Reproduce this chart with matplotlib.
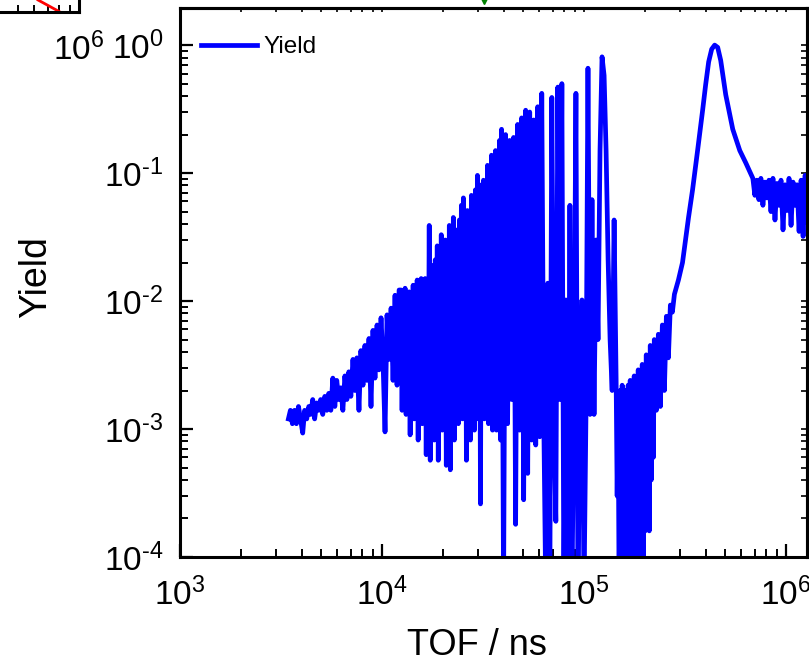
import numpy as np
import matplotlib
matplotlib.use("Agg")
import matplotlib.pyplot as plt
from matplotlib.ticker import LogLocator, NullFormatter, FuncFormatter, FixedLocator

plt.rcParams['font.family'] = ['Liberation Sans', 'DejaVu Sans']
plt.rcParams['mathtext.fontset'] = 'custom'
plt.rcParams['mathtext.rm'] = 'Liberation Sans'
plt.rcParams['mathtext.it'] = 'Liberation Sans:italic'
plt.rcParams['mathtext.bf'] = 'Liberation Sans:bold'
plt.rcParams['axes.unicode_minus'] = False

# ---------------- data ----------------
tof_low = [3440, 3520, 3600, 3690, 3770, 3860, 3950, 4050, 4140, 4240, 4340, 4430,
           4540, 4640, 4750, 4860, 4970, 5090, 5210, 5330, 5450, 5580, 5710, 5840,
           5970, 6110, 6250, 6400, 6550, 6700, 6850, 7010, 7180, 7340, 7510, 7690,
           7860, 8050, 8230, 8420, 8620, 8820, 9020, 9230, 9450, 9660, 9890, 10120,
           10350, 10590, 10840, 11090, 11340, 11600, 11870, 12150]
yield_low = [0.0012, 0.0014, 0.0011, 0.0014, 0.0011, 0.0015, 0.0012, 0.00093, 0.0014, 0.0012, 0.0015, 0.0013,
             0.0017, 0.0012, 0.0016, 0.0014, 0.0017, 0.0013, 0.0018, 0.0014, 0.0019, 0.0014, 0.0025, 0.0015,
             0.0024, 0.0017, 0.0021, 0.0014, 0.0026, 0.0017, 0.0028, 0.0018, 0.0035, 0.0020, 0.0036, 0.0014,
             0.0041, 0.0022, 0.0045, 0.0024, 0.0051, 0.0015, 0.0059, 0.0025, 0.0065, 0.0029, 0.0074, 0.0033,
             0.00095, 0.0078, 0.0035, 0.0088, 0.0024, 0.0111, 0.0022, 0.0122]

tof_dense = [12430, 12570, 12720, 12860, 13010, 13160, 13310, 13460, 13620, 13780,
             13940, 14100, 14260, 14420, 14590, 14760, 14930, 15100, 15280, 15450,
             15630, 15810, 15990, 16170, 16360, 16550, 16740, 16930, 17130, 17330,
             17530, 17730, 17930, 18140, 18350, 18560, 18770, 18990, 19210, 19430,
             19650, 19880, 20110, 20340, 20570, 20810, 21050, 21290, 21540, 21790,
             22040, 22290, 22550, 22810, 23070, 23340, 23610, 23880, 24150, 24430,
             24710, 25000, 25290, 25580, 25870, 26170, 26470, 26780, 27090, 27400,
             27710, 28030, 28350, 28680, 29010, 29350, 29680, 30030, 30370, 30720,
             31070, 31430, 31790, 32160, 32530, 32900, 33280, 33660, 34050, 34440,
             34840, 35250, 35650, 36060, 36470, 36900, 37320, 37750, 38180, 38630,
             39070]
yield_dense = [0.0122, 0.0014, 0.0102, 0.0017, 0.0126, 0.0013, 0.0085, 0.0015, 0.0118, 0.00090,
               0.0102, 0.0014, 0.0133, 0.0012, 0.0071, 0.0015, 0.0146, 0.00082, 0.0111, 0.0013,
               0.015, 0.0011, 0.0122, 0.0014, 0.015, 0.00063, 0.0102, 0.0012, 0.039, 0.00057,
               0.0059, 0.0013, 0.019, 0.00082, 0.021, 0.0012, 0.027, 0.00057, 0.0175, 0.0011,
               0.033, 0.00098, 0.023, 0.0014, 0.030, 0.00052, 0.021, 0.0012, 0.039, 0.00048,
               0.030, 0.0011, 0.045, 0.00082, 0.025, 0.0013, 0.036, 0.0011, 0.043, 0.0015,
               0.056, 0.0012, 0.064, 0.0017, 0.047, 0.00057, 0.051, 0.0014, 0.039, 0.00082,
               0.067, 0.0013, 0.056, 0.00098, 0.074, 0.0015, 0.096, 0.0012, 0.081, 0.00026,
               0.062, 0.0014, 0.088, 0.0012, 0.074, 0.0017, 0.115, 0.0011, 0.096, 0.0014,
               0.138, 0.00098, 0.105, 0.0013, 0.15, 0.00098, 0.115, 0.0014, 0.18, 0.00082,
               0.22]

tof_res = [39970, 40900, 41850, 42820, 43810, 44820, 45860, 46920, 48010,
           49120, 50260, 51420, 52620, 53840, 55080, 56360, 57670, 59000, 60370, 61770, 63200,
           64670, 66170, 67700, 69270, 70870, 72520, 74200, 75920, 77680, 79480, 81320, 83210,
           85140, 87110, 89130, 91190, 93310, 95470, 97690, 99950, 102300, 104600, 107100, 109500,
           112100, 114700, 117300, 120000, 122800]
yield_res = [5e-5, 0.20, 0.0011, 0.18, 0.0017, 0.19, 0.00018, 0.24, 0.00098,
             0.27, 0.00028, 0.31, 0.00045, 0.30, 0.00082, 0.26, 0.00075, 0.33, 0.00087, 0.42, 0.0012,
             5e-5, 0.0138, 5e-5, 0.39, 0.0013, 0.00019, 0.47, 0.0017, 0.50, 5e-5, 0.0102, 5e-5,
             0.056, 5e-5, 0.0017, 0.42, 5e-5, 0.0014, 0.0102, 5e-5, 0.0014, 0.66, 0.0013, 0.062,
             0.0013, 0.030, 0.0050, 0.15, 0.81]

tof_dip = [125700, 128600, 131600, 134600, 137800, 140900,
           144200, 145900, 147500, 149200, 151000, 152700, 154500, 156300, 158000, 159900,
           161700, 163600, 165400, 167300, 169300, 171200, 173200, 175200, 177200, 179300,
           181300, 183400, 185500, 187700, 189800, 192000, 194200, 196500, 198700, 201000,
           203300, 205700, 208000, 210400, 212800, 215300, 217800, 220300, 222800,
           228000, 233300, 238700, 244200, 249900, 255700, 261600, 267600, 273800, 280200]
yield_dip = [0.58, 0.15, 0.021, 0.0050, 0.0020, 0.043,
             0.0024, 0.00030, 0.0015, 5e-5, 0.0020, 0.00015, 0.0022, 5e-5, 0.0019, 0.00019,
             0.0020, 5e-5, 0.0022, 0.00012, 0.0024, 5e-5, 0.0021, 0.00025, 0.0026, 5e-5,
             0.0024, 0.00014, 0.0029, 5e-5, 0.0027, 0.00028, 0.0032, 5e-5, 0.0030, 0.00016,
             0.0038, 0.00020, 0.0035, 0.00016, 0.0045, 0.00040, 0.0042, 0.00060, 0.0050,
             0.0014, 0.0055, 0.0015, 0.0065, 0.0020, 0.0076, 0.0036, 0.0093, 0.0082, 0.0113]

tof_peak = [293300, 307300, 318000, 329100, 344600, 364900, 386500, 400000, 414000,
            428500, 443400, 458900, 474900, 502900, 544900, 590300, 632400]
yield_peak = [0.0146, 0.020, 0.030, 0.045, 0.074, 0.15, 0.31, 0.49, 0.74,
              0.93, 1.0, 0.96, 0.76, 0.41, 0.22, 0.15, 0.12]

tof_tail = [685100, 701000, 717300, 733900, 750900, 768300, 786100, 804300, 823000, 842100,
            861600, 881600, 902000, 922900, 944300, 966200, 988600, 1011500, 1034900, 1058900,
            1083500, 1108600, 1134300, 1160600, 1187500, 1215000, 1243200, 1272000, 1301500,
            1331700, 1362600]
yield_tail = [0.091, 0.067, 0.088, 0.062, 0.091, 0.056, 0.085, 0.064, 0.088, 0.050,
              0.091, 0.043, 0.083, 0.056, 0.088, 0.036, 0.081, 0.051, 0.091, 0.039,
              0.085, 0.056, 0.081, 0.035, 0.088, 0.032, 0.096, 0.041, 0.109,
              0.036, 0.105]

tof = np.array(tof_low + tof_dense + tof_res + tof_dip + tof_peak + tof_tail, dtype=float)
yld = np.array(yield_low + yield_dense + yield_res + yield_dip + yield_peak + yield_tail,
               dtype=float)

series_label = "Yield"
x_label = "TOF / ns"
y_label = "Yield"

# neighbouring panels that are cut into this crop
upper_panel_tof = [6.27e5, 8.05e5]
upper_panel_val = [1.0, 0.0]
upper_panel_ticks = [1e6]
neighbour_marker_tof = [3.21e4]
neighbour_marker_val = [2.3]

HYPHEN = "\u2010"


def pow10_label(v, pos):
    e = int(round(np.log10(v)))
    if e < 0:
        return "$\\mathdefault{10^{" + HYPHEN + str(-e) + "}}$"
    return "$\\mathdefault{10^{" + str(e) + "}}$"


# ---------------- figure ----------------
W, H = 809, 667
fig = plt.figure(figsize=(W / 100, H / 100), dpi=100)

ax = fig.add_axes([180 / W, 110 / H, 627 / W, 549 / H])
ax.set_xscale('log')
ax.set_yscale('log')
ax.plot(tof, yld, color='#0000FF', lw=3.4, label=series_label, solid_joinstyle='round')
ax.set_xlim(1e3, 1.27e6)
ax.set_ylim(1e-4, 1.95)

ax.plot(neighbour_marker_tof, neighbour_marker_val, marker='v', color='#008000',
        ms=7, ls='none', clip_on=False)

for s in ax.spines.values():
    s.set_linewidth(2.2)

tick_fs = 24
for axis in (ax.xaxis, ax.yaxis):
    axis.set_major_locator(LogLocator(base=10, numticks=20))
    axis.set_minor_locator(LogLocator(base=10, subs=np.arange(2, 10), numticks=20))
    axis.set_minor_formatter(NullFormatter())
    axis.set_major_formatter(FuncFormatter(pow10_label))

ax.tick_params(which='major', direction='in', length=9.5, width=1.6, labelsize=tick_fs,
               top=False, right=False)
ax.tick_params(which='minor', direction='in', length=5.5, width=1.4, top=False, right=False)
ax.tick_params(axis='x', which='major', pad=15)
ax.tick_params(axis='y', which='major', pad=12)

# short ticks on top / right
secx = ax.secondary_xaxis('top')
secx.set_xscale('log')
secx.xaxis.set_minor_locator(LogLocator(base=10, subs=np.arange(2, 10), numticks=20))
secx.tick_params(which='both', direction='in', length=3, width=1.2, labeltop=False)
secx.xaxis.set_minor_formatter(NullFormatter())
secx.xaxis.set_major_formatter(NullFormatter())
secx.spines['top'].set_linewidth(2.2)
secy = ax.secondary_yaxis('right')
secy.yaxis.set_minor_locator(LogLocator(base=10, subs=np.arange(2, 10), numticks=20))
secy.tick_params(which='both', direction='in', length=4, width=1.2, labelright=False)
secy.yaxis.set_minor_formatter(NullFormatter())
secy.yaxis.set_major_formatter(NullFormatter())
secy.spines['right'].set_linewidth(2.2)

ax.set_xlabel(x_label, fontsize=26)
ax.set_ylabel(y_label, fontsize=27)
ax.xaxis.set_label_coords(0.474, -0.130)
ax.yaxis.set_label_coords(-0.201, 0.51)

ax.legend(loc='upper left', bbox_to_anchor=(0.033, 0.949), frameon=False, fontsize=17.5,
          handlelength=2.3, handletextpad=0.3, borderpad=0, borderaxespad=0)

# corner of the neighbouring upper-left panel
ax2 = fig.add_axes([-150 / W, 655 / H, 229 / W, 12 / H])
ax2.set_xscale('log')
ax2.set_xlim(10 ** (6 - 229 / 202), 1e6)
ax2.set_ylim(0, 1)
ax2.plot(upper_panel_tof, upper_panel_val, color='red', lw=2)
ax2.spines['top'].set_visible(False)
ax2.spines['left'].set_visible(False)
ax2.spines['bottom'].set_linewidth(2.2)
ax2.spines['right'].set_linewidth(2.2)
ax2.xaxis.set_major_locator(FixedLocator(upper_panel_ticks))
ax2.xaxis.set_minor_locator(LogLocator(base=10, subs=np.arange(2, 10), numticks=20))
ax2.xaxis.set_minor_formatter(NullFormatter())
ax2.xaxis.set_major_formatter(FuncFormatter(pow10_label))
ax2.tick_params(axis='x', which='both', direction='in', length=5, width=1.4,
                labelsize=tick_fs, pad=15)
ax2.set_yticks([])
ax2.patch.set_visible(False)

fig.savefig("out.png", dpi=100)
